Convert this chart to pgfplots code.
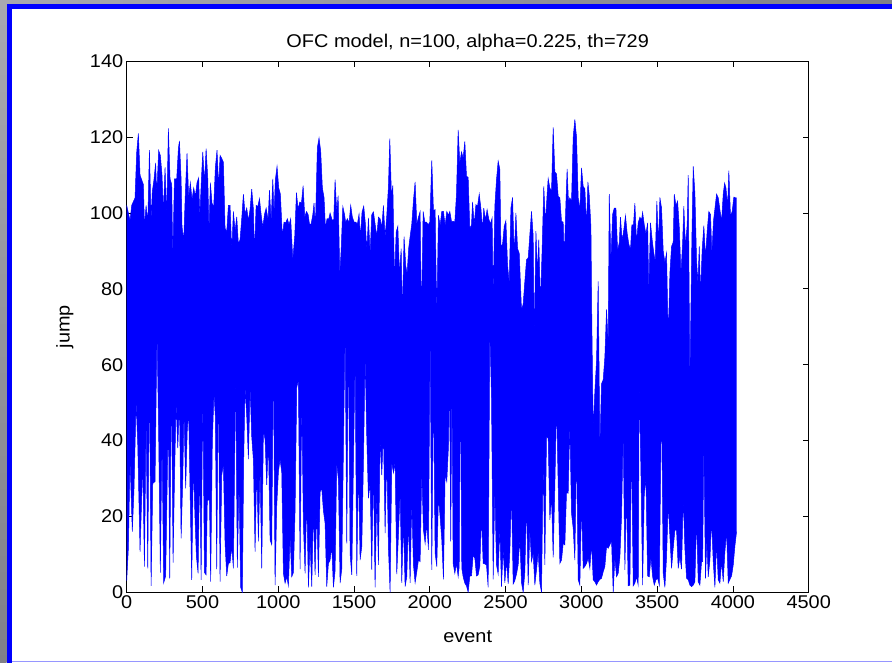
\documentclass[border=0pt]{standalone}
\usepackage{fontspec}
\setmainfont{Liberation Sans}[FakeStretch=1.08]
\usepackage{pgfplots}
\pgfplotsset{compat=1.18}
\usepgfplotslibrary{fillbetween}
\definecolor{mblue}{RGB}{0,0,255}
\definecolor{graylight}{RGB}{168,168,176}
\definecolor{graydark}{RGB}{128,128,136}
\definecolor{lineblue}{RGB}{150,150,255}
\newcommand{\mfont}{\fontsize{18.5}{20}\selectfont}

\begin{document}
\begin{tikzpicture}[x=1bp,y=1bp]
\begin{axis}[
  at={(126.7bp,70.7bp)}, anchor=south west,
  width=682bp, height=531bp, scale only axis,
  xmin=0, xmax=4500, ymin=0, ymax=140,
  xtick={0,500,...,4500}, ytick={0,20,...,140},
  scaled x ticks=false,
  /pgf/number format/1000 sep={},
  /pgf/number format/assume math mode=true,
  tick align=inside, major tick length=6bp,
  tick style={black, line width=0.8bp},
  axis line style={black, line width=0.9bp},
  ticklabel style={font=\mfont},
  label style={font=\mfont},
  title style={font=\mfont},
  title={OFC model, n=100, alpha=0.225, th=729},
  xlabel={event}, ylabel={jump},
  xlabel style={at={(axis description cs:0.5,-0.083)}, anchor=center},
  ylabel style={at={(axis description cs:-0.0905,0.5)}, anchor=center},
]
% upper edge of the trace
\addplot[name path=U, mblue, line width=0.5bp] coordinates {
(0,102) (22,98) (33,102) (55,104) (66,116) (77,121) (88,110) (110,107.5) (117,96.5) (128,102) (139,97.4) (150,116.6) (161,98.2) (169,105.7) (180,108.8) (191,113.2) (198,104.8) (211,116.5) (222,115.2) (233,110) (242,100.2) (253,112) (264,99.3) (275,122.3) (286,109) (297,107.5) (304,88) (315,109) (330,109) (341,117) (348,119) (359,109) (365,96.5) (376,92.5) (387,105.3) (398,115.7) (409,104) (420,108) (431,103.5) (442,106.6) (453,104.4) (464,108) (475,109.3) (482,98.7) (493,109) (502,116.1) (513,108) (524,117) (535,109) (543,95) (552,108) (563,102.6) (574,101.6) (585,112) (596,116.6) (607,106.8) (616,115.2) (627,114.4) (638,113.4) (649,96) (660,95) (671,102) (682,102) (693,90) (704,100.4) (715,95.3) (726,99) (737,91.8) (748,93) (759,98.5) (770,105) (781,99.7) (792,101.3) (803,98) (814,101) (825,106.3) (836,101) (843,89.3) (854,102) (865,101.7) (876,103.8) (887,99.6) (898,96.2) (909,99.6) (920,101.3) (933,98.2) (942,106) (953,98) (964,109) (972,99.7) (981,108.8) (992,112.3) (1003,106.6) (1014,105) (1027,93.8) (1038,97.6) (1049,97.4) (1060,98.5) (1071,96.9) (1082,98.5) (1096,87.7) (1109,94) (1120,105.4) (1131,101) (1142,102.9) (1153,102.6) (1164,107.2) (1175,98.9) (1186,100.4) (1197,99.6) (1206,97.1) (1217,97.1) (1228,99.6) (1236,102.6) (1245,96.2) (1258,117.2) (1269,119.8) (1280,116.3) (1291,106.6) (1302,104.1) (1311,96.2) (1322,98.5) (1333,98.4) (1342,100) (1355,98.2) (1366,98.2) (1375,108.8) (1386,100.3) (1395,104.6) (1406,83.9) (1415,90.3) (1426,101.7) (1437,99.7) (1445,97.5) (1456,98.5) (1467,97.4) (1478,102) (1489,98.9) (1500,97.6) (1511,97.6) (1522,97.1) (1533,99.7) (1542,93.7) (1553,100.3) (1564,101.8) (1575,97.1) (1584,90) (1595,98.7) (1606,89.4) (1617,99.6) (1628,100.3) (1639,97.1) (1650,93.8) (1661,98.9) (1672,98.5) (1683,96.2) (1694,102) (1705,93.7) (1716,99.3) (1727,107) (1736,119.6) (1747,104.1) (1756,107.3) (1767,82.1) (1778,95) (1789,96.5) (1800,83.9) (1811,90.6) (1819,73) (1830,93.8) (1841,86.2) (1850,83.9) (1861,90.9) (1870,93.8) (1881,97.1) (1892,103.3) (1903,108.2) (1914,97.1) (1925,98.9) (1936,100.4) (1945,72) (1956,100.4) (1967,97.6) (1978,97.6) (1989,96.9) (2000,97.6) (2013,113.9) (2024,100.6) (2035,100.9) (2046,73) (2057,99.4) (2068,96.7) (2079,100.4) (2090,100.4) (2101,96.7) (2112,100.4) (2123,99.4)
(2132,100.4) (2143,97.8) (2154,97.8) (2165,97.6) (2176,105) (2187,121.9) (2198,113.2) (2209,116.1) (2220,114.5) (2231,118.9) (2242,109.7) (2253,109.4) (2264,95.8) (2275,96.9) (2282,102.9) (2293,96.9) (2304,102.2) (2315,101.8) (2326,105) (2337,101.3) (2348,95.6) (2356,101.3) (2367,98.2) (2378,100.9) (2389,98.4) (2400,97.1) (2411,98.7) (2418,78) (2429,101.8) (2440,108.8) (2451,113.7) (2462,111.5) (2469,91.2) (2480,91.8) (2491,96.5) (2502,98) (2513,86.3) (2524,81.5) (2535,101.3) (2546,104.1) (2557,88.8) (2568,100) (2579,90.6) (2590,89.4) (2605,74.4) (2616,76) (2627,82) (2638,87.7) (2649,88.1) (2660,94.3) (2671,100.4) (2682,94) (2689,65.8) (2700,95.2) (2711,84.1) (2719,93) (2730,76) (2741,90.3) (2752,107) (2763,97.4) (2774,105) (2781,109.1) (2792,106.6) (2803,105.7) (2814,122.6) (2825,110.8) (2836,110.3) (2847,104.4) (2858,104) (2869,97.8) (2880,97.6) (2887,88.1) (2898,102.6) (2906,111.6) (2915,102.9) (2924,104) (2935,103.1) (2946,120) (2957,124.7) (2968,120) (2979,104) (2990,100.9) (3001,111.9) (3012,107) (3023,106.4) (3034,96.5) (3043,108.2) (3052,104.7) (3063,96.3) (3069,71) (3078,43) (3089,53) (3100,61) (3111,82) (3122,38) (3133,55) (3144,56) (3155,62) (3166,74.6) (3177,65.7) (3184,105) (3195,87.4) (3206,99.6) (3217,101.3) (3228,101.3) (3239,90) (3250,92.2) (3258,98.9) (3269,92.7) (3280,95.6) (3291,99.3) (3302,94.7) (3313,91.8) (3324,90.3) (3333,96.9) (3344,96.9) (3353,102.6) (3364,92.3) (3375,97.4) (3386,98.9) (3397,98.2) (3404,100.2) (3415,96.9) (3426,94.4) (3437,97.4) (3445,79.3) (3456,97.4) (3467,93) (3476,90) (3487,87.2) (3498,103.1) (3509,91.8) (3518,104.1) (3529,101.3) (3540,90) (3551,87) (3562,89.4) (3573,67) (3584,84.1) (3595,91.2) (3606,92.3) (3613,105) (3624,102) (3635,103.1) (3646,96.2) (3657,84.1) (3668,92) (3676,101.8) (3687,91.2) (3698,96.9) (3705,110) (3716,55) (3729,93) (3738,112.3) (3749,105.3) (3760,87.4) (3769,81.5) (3778,91.2) (3786,78.4) (3797,90.3) (3808,96.7) (3819,88.3) (3830,95.2) (3841,100.4) (3852,99.6) (3861,89.4) (3872,98) (3883,101.8) (3892,105) (3903,104) (3914,100.9) (3925,97.8) (3936,105) (3945,107.9) (3954,106.6) (3965,101.8) (3973,111.2) (3984,99.1) (3995,100.4) (4006,104.2) (4017,104) (4024,104)
};
% lower edge of the trace
\addplot[name path=L, mblue, line width=0.5bp] coordinates {
(0,3) (11,11.6) (22,34.9) (37,16) (48,27) (62,50.3) (73,38.8) (88,10.7) (106,34.2) (117,6.8) (128,46.1) (139,6.3) (150,58.3) (161,1.7) (172,28.7) (187,29.2) (200,69.3) (211,41.2) (222,5.2) (233,40.3) (244,2.5) (257,4.3) (275,47.6) (284,3.7) (295,57) (306,7.8) (315,29.3) (326,50.1) (337,38) (348,50.7) (359,14.2) (370,30) (378,48) (389,27.4) (400,43.2) (409,47.2) (418,27) (429,3.3) (440,34.2) (451,19.1) (460,9.4) (471,5) (482,34.2) (491,3.3) (502,53.2) (513,5.2) (524,4.6) (532,24.3) (546,24.3) (554,2.8) (565,39.7) (576,52.6) (585,46.1) (594,6.1) (605,56.2) (616,2.8) (627,30.9) (638,33.8) (649,12.9) (660,4.3) (671,7.6) (682,7.8) (693,12) (704,6.3) (719,57.6) (730,6.5) (741,29.2) (752,1.3) (763,0) (772,35.1) (781,54.2) (792,46.3) (803,35.1) (814,54.2) (825,41) (836,34.9) (847,10.7) (858,33) (869,13.4) (880,33.3) (891,6.3) (902,43) (913,40.2) (924,28.3) (935,40.2) (946,13.8) (957,12.5) (968,62.8) (979,1.9) (990,22.8) (1001,31.8) (1012,35.1) (1023,31.6) (1034,5) (1045,2.4) (1056,4.1) (1067,1.7) (1078,14.7) (1089,4.1) (1100,5.2) (1111,21.7) (1122,54) (1133,56) (1144,6.1) (1155,50.9) (1166,17.8) (1177,5) (1188,25) (1199,1.3) (1210,12.9) (1221,1.5) (1232,21.7) (1243,4.6) (1254,21.9) (1265,4.1) (1276,26.5) (1287,27.4) (1298,21.5) (1309,18.2) (1320,1.5) (1331,7.6) (1342,8.5) (1353,12) (1364,1.3) (1375,5.7) (1386,34) (1397,29.6) (1408,2.4) (1419,6.1) (1430,37.7) (1441,69.6) (1452,12.9) (1463,68.5) (1474,10.1) (1485,4.6) (1496,33.3) (1507,62) (1518,4.3) (1529,33.3) (1540,8.5) (1551,12) (1562,34.2) (1573,62) (1584,41) (1595,24.8) (1606,28.9) (1617,5.9) (1628,32.7) (1639,1.3) (1650,26.1) (1661,7.2) (1672,41) (1683,30.9) (1694,42.8) (1705,15.6) (1716,36.2) (1727,11.6) (1738,0) (1749,34.2) (1760,31.5) (1771,34.4) (1782,4.8) (1793,15.1) (1804,26.5) (1815,2.5) (1826,18.6) (1837,1.5) (1848,4.1) (1859,18.6) (1870,2.5) (1881,23.9) (1892,7.2) (1903,2.5) (1914,5.4) (1925,8.5) (1936,8.1) (1947,31.8) (1958,16.4) (1969,12.9) (1980,18.2) (1991,11.2) (2002,68.3) (2013,5.9) (2024,55.5) (2035,10.3) (2046,6.8) (2057,25.2) (2068,19.9) (2079,13.8) (2090,3.4) (2101,31.4) (2112,29.2) (2123,38.4) (2130,57)
(2138,13.4) (2146,55.1) (2154,7.6) (2165,5) (2176,7.6) (2187,4.1) (2194,6.8) (2202,57.9) (2211,6.3) (2220,4.1) (2231,2.4) (2242,1.7) (2253,0) (2264,4.3) (2275,4.3) (2286,9.8) (2297,9) (2308,4.3) (2319,4.6) (2330,6.9) (2341,20.1) (2352,7.6) (2363,7.5) (2374,7.2) (2385,1.3) (2396,69.3) (2407,51.4) (2418,3.4) (2429,27.2) (2440,7.2) (2451,4.8) (2462,16.9) (2473,1.5) (2484,11.6) (2495,2.5) (2506,8.3) (2517,2.2) (2528,10.7) (2539,26.3) (2550,2.2) (2561,3.1) (2572,4.8) (2583,7.2) (2594,14.2) (2605,2.5) (2616,0) (2627,5.4) (2638,23.9) (2649,1.9) (2660,16.4) (2671,8.1) (2682,10.3) (2693,1.9) (2704,5.9) (2715,10.7) (2726,2.4) (2737,0) (2748,34.9) (2759,7.2) (2770,41) (2781,40.6) (2792,19.1) (2803,25.2) (2814,9.2) (2825,27.9) (2836,50) (2847,28.3) (2858,7.6) (2869,8.5) (2880,12.9) (2891,12.5) (2902,26.3) (2913,26.1) (2924,44.4) (2935,20.8) (2946,16.9) (2957,8.5) (2968,38.7) (2979,3.3) (2990,1.9) (3001,23.5) (3012,6.3) (3023,6.8) (3034,7.6) (3045,9) (3056,6.3) (3067,12.9) (3078,3.3) (3089,2.8) (3100,1.9) (3111,2.8) (3122,3.4) (3133,3.7) (3144,5.4) (3155,6.8) (3166,12) (3177,11.6) (3188,12.5) (3199,13.8) (3210,0) (3221,9) (3232,4.1) (3243,5) (3254,9.2) (3265,19.9) (3276,41.9) (3287,5.9) (3298,26.1) (3309,1.7) (3320,1.9) (3331,39.5) (3342,1.7) (3353,2.4) (3364,4.1) (3375,1.9) (3382,56) (3393,31.8) (3404,1.9) (3415,25.7) (3426,30) (3437,4.3) (3448,4.1) (3459,9.2) (3470,4.1) (3481,1.9) (3492,3.3) (3503,3.7) (3514,1.9) (3529,51.8) (3540,5) (3551,1.3) (3562,9.2) (3573,23.5) (3584,14.7) (3595,6.3) (3606,11.6) (3617,16.4) (3628,16.4) (3639,6.3) (3650,9.4) (3661,6.1) (3672,25.2) (3683,11.6) (3694,3.7) (3705,3.3) (3716,1.9) (3727,1.5) (3738,1.9) (3749,2.8) (3760,19.5) (3771,2.8) (3782,1.9) (3793,8.1) (3800,8.1) (3808,39.5) (3819,3.7) (3828,13.8) (3837,4.1) (3848,8.5) (3859,19.1) (3870,8.1) (3881,1.3) (3892,12.9) (3903,3.3) (3914,2.4) (3925,8.1) (3936,2.8) (3947,10.7) (3958,16) (3969,2.4) (3980,3.4) (3991,4.3) (4002,7.2) (4013,12.2) (4024,16)
};
\addplot[fill=mblue, draw=none] fill between[of=U and L];
\end{axis}
% window frame, drawn after the axis so it stays clear of the plot layers
\shade[left color=graylight, right color=graydark] (0,658.5) rectangle (892,663);
\shade[top color=graylight, bottom color=graydark] (0,0) rectangle (6.7,663);
\fill[mblue] (6.7,654) rectangle (892,658.5);
\fill[mblue] (6.7,0) rectangle (11.7,658.5);
\fill[lineblue] (11.7,0.6) rectangle (892,1.8);
\pgfresetboundingbox
\path[use as bounding box] (0,0) rectangle (892,663);
\end{tikzpicture}
\end{document}
